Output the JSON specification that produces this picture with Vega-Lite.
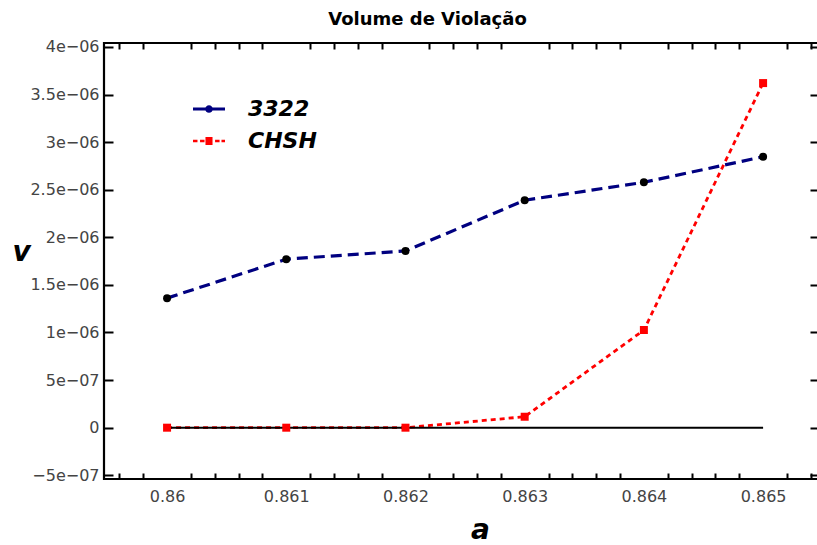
{
  "$schema": "https://vega.github.io/schema/vega-lite/v6.json",
  "width": 715,
  "height": 436,
  "autosize": {"type": "none"},
  "padding": {"left": 104, "top": 43, "right": 0, "bottom": 66},
  "background": "white",
  "title": {"text": "Volume de Violação", "font": "DejaVu Sans", "fontSize": 18, "fontWeight": "bold", "color": "black", "anchor": "middle", "dx": -34, "offset": -4, "baseline": "alphabetic"},
  "config": {
    "view": {"stroke": "black", "strokeWidth": 2.2},
    "axis": {"domain": false, "grid": false, "labelFont": "DejaVu Sans", "labelFontSize": 16, "labelColor": "#444444", "tickColor": "black", "tickWidth": 2, "titleFont": "DejaVu Sans", "titleFontWeight": "bold", "titleFontStyle": "italic", "titleFontSize": 28, "titleColor": "black"}
  },
  "data": {"values": [
    {"a": 0.86, "v": 1.361e-6, "series": "3322"},
    {"a": 0.861, "v": 1.770e-6, "series": "3322"},
    {"a": 0.862, "v": 1.857e-6, "series": "3322"},
    {"a": 0.863, "v": 2.389e-6, "series": "3322"},
    {"a": 0.864, "v": 2.578e-6, "series": "3322"},
    {"a": 0.865, "v": 2.846e-6, "series": "3322"},
    {"a": 0.86, "v": 0, "series": "CHSH"},
    {"a": 0.861, "v": 0, "series": "CHSH"},
    {"a": 0.862, "v": 0, "series": "CHSH"},
    {"a": 0.863, "v": 1.15e-7, "series": "CHSH"},
    {"a": 0.864, "v": 1.026e-6, "series": "CHSH"},
    {"a": 0.865, "v": 3.62e-6, "series": "CHSH"}
  ]},
  "resolve": {"axis": {"x": "independent", "y": "independent"}},
  "layer": [
    {
      "transform": [{"filter": "datum.series == 'CHSH'"}],
      "mark": {"type": "line", "color": "#ff0000", "strokeWidth": 2.8, "strokeDash": [5, 4]},
      "encoding": {
        "x": {"field": "a", "type": "quantitative", "scale": {"domain": [0.859471, 0.865469], "nice": false, "zero": false},
          "axis": {"orient": "bottom", "title": "a", "titleX": 376, "titleY": 59, "titleBaseline": "alphabetic", "titleAlign": "center",
            "values": [0.8596,0.8598,0.86,0.8602,0.8604,0.8606,0.8608,0.861,0.8612,0.8614,0.8616,0.8618,0.862,0.8622,0.8624,0.8626,0.8628,0.863,0.8632,0.8634,0.8636,0.8638,0.864,0.8642,0.8644,0.8646,0.8648,0.865,0.8652,0.8654],
            "labelExpr": "abs(datum.value*1000 - round(datum.value*1000)) < 0.01 ? format(datum.value, '~g') : ''",
            "tickSize": -6, "labelPadding": 15,
            "tickOpacity": {"condition": {"test": "abs(datum.value*1000 - round(datum.value*1000)) < 0.01", "value": 0}, "value": 1}}},
        "y": {"field": "v", "type": "quantitative", "scale": {"domain": [-5.39e-7, 4.041e-6], "nice": false, "zero": false},
          "axis": {"orient": "left", "title": "v", "titleAngle": 0, "titleX": -83, "titleY": 217, "titleAlign": "center", "titleBaseline": "alphabetic",
            "values": [-5e-7, 0, 5e-7, 1e-6, 1.5e-6, 2e-6, 2.5e-6, 3e-6, 3.5e-6, 4e-6],
            "labelExpr": "datum.value == 0 ? '0' : replace(replace(format(datum.value, '~e'), 'e-', 'e−0'), '-', '−')",
            "tickSize": -9, "labelPadding": 14}}
      }
    },
    {
      "data": {"values": [{"a0": 0.86, "a1": 0.865, "z": 0}]},
      "mark": {"type": "rule", "color": "black", "strokeWidth": 2},
      "encoding": {
        "x": {"field": "a0", "type": "quantitative",
          "axis": {"orient": "top", "title": null, "labels": false,
            "values": [0.8596,0.8598,0.8602,0.8604,0.8606,0.8608,0.8612,0.8614,0.8616,0.8618,0.8622,0.8624,0.8626,0.8628,0.8632,0.8634,0.8636,0.8638,0.8642,0.8644,0.8646,0.8648,0.8652,0.8654],
            "tickSize": -6}},
        "x2": {"field": "a1"},
        "y": {"field": "z", "type": "quantitative",
          "axis": {"orient": "right", "title": null, "labels": false,
            "values": [-5e-7, 0, 5e-7, 1e-6, 1.5e-6, 2e-6, 2.5e-6, 3e-6, 3.5e-6, 4e-6],
            "tickSize": -9}}
      }
    },
    {
      "transform": [{"filter": "datum.series == '3322'"}],
      "mark": {"type": "line", "color": "#000080", "strokeWidth": 3.2, "strokeDash": [11, 6]},
      "encoding": {
        "x": {"field": "a", "type": "quantitative", "axis": null},
        "y": {"field": "v", "type": "quantitative", "axis": null}
      }
    },
    {
      "transform": [{"filter": "datum.series == '3322'"}],
      "mark": {"type": "point", "shape": "circle", "filled": true, "color": "black", "size": 64, "opacity": 1},
      "encoding": {
        "x": {"field": "a", "type": "quantitative", "axis": null},
        "y": {"field": "v", "type": "quantitative", "axis": null}
      }
    },
    {
      "transform": [{"filter": "datum.series == 'CHSH'"}],
      "mark": {"type": "point", "shape": "square", "filled": true, "color": "#ff0000", "size": 64, "opacity": 1},
      "encoding": {
        "x": {"field": "a", "type": "quantitative", "axis": null},
        "y": {"field": "v", "type": "quantitative", "axis": null}
      }
    },
    {
      "mark": {"type": "point", "filled": true, "opacity": 0},
      "encoding": {
        "x": {"field": "a", "type": "quantitative", "axis": null},
        "y": {"field": "v", "type": "quantitative", "axis": null},
        "color": {"field": "series", "type": "nominal",
          "scale": {"domain": ["3322", "CHSH"], "range": ["#000080", "#ff0000"]},
          "legend": {"orient": "none", "legendX": 89, "legendY": 50, "title": null,
            "labelFont": "DejaVu Sans", "labelFontSize": 22, "labelFontStyle": "italic", "labelFontWeight": "bold", "labelColor": "black",
            "symbolSize": 1024, "labelOffset": 23, "rowPadding": 5, "symbolStrokeWidth": 0, "symbolOpacity": 1}},
        "shape": {"field": "series", "type": "nominal",
          "scale": {"domain": ["3322", "CHSH"], "range": [
            "M-1,-0.09H1V0.09H-1Z M0.24,0A0.24,0.24 0 1,1 -0.24,0A0.24,0.24 0 1,1 0.24,0Z",
            "M-1,-0.08H-0.72V0.08H-1Z M-0.56,-0.08H-0.28V0.08H-0.56Z M-0.22,-0.25H0.22V0.25H-0.22Z M0.38,-0.08H0.66V0.08H0.38Z M0.78,-0.08H1V0.08H0.78Z"
          ]},
          "legend": {"orient": "none", "legendX": 89, "legendY": 50, "title": null,
            "labelFont": "DejaVu Sans", "labelFontSize": 22, "labelFontStyle": "italic", "labelFontWeight": "bold", "labelColor": "black",
            "symbolSize": 1024, "labelOffset": 23, "rowPadding": 5, "symbolStrokeWidth": 0, "symbolOpacity": 1}}
      }
    }
  ]
}
